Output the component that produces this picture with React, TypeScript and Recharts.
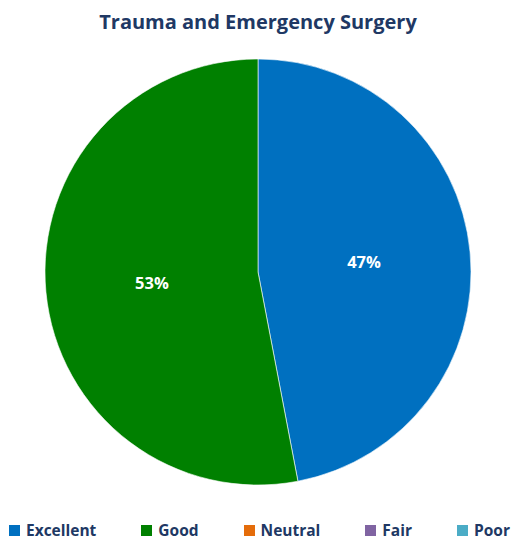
import { PieChart, Pie, Cell, Legend } from "recharts";

const categories = ["Excellent", "Good", "Neutral", "Fair", "Poor"];
const shares = [47, 53, 0, 0, 0];
const colors = ["#0070C0", "#008000", "#E46C0A", "#8064A2", "#4BACC6"];

const data = categories.map((name, i) => ({ name, value: shares[i] }));
const total = shares.reduce((a, b) => a + b, 0);

const navy = "#203864";
const font = "'Open Sans', Lato, sans-serif";

const RADIAN = Math.PI / 180;

function renderLabel(props: any) {
  const { cx, cy, midAngle, outerRadius, value } = props;
  if (!value) return null;
  const r = outerRadius * 0.5;
  const x = cx + r * Math.cos(-midAngle * RADIAN);
  const y = cy + r * Math.sin(-midAngle * RADIAN);
  return (
    <text
      x={x}
      y={y}
      fill="#ffffff"
      textAnchor="middle"
      dominantBaseline="central"
      fontFamily={font}
      fontWeight={700}
      fontSize={16.5}
    >
      {`${Math.round((value / total) * 100)}%`}
    </text>
  );
}

function LegendRow() {
  return (
    <div
      style={{
        display: "flex",
        alignItems: "center",
        paddingLeft: 9,
        gap: 45,
        fontFamily: font,
        fontWeight: 700,
        fontSize: 15.5,
        color: navy,
      }}
    >
      {categories.map((c, i) => (
        <div key={c} style={{ display: "flex", alignItems: "center" }}>
          <span
            style={{
              width: 11,
              height: 11,
              background: colors[i],
              marginRight: 6,
              display: "inline-block",
            }}
          />
          <span>{c}</span>
        </div>
      ))}
    </div>
  );
}

export default function App() {
  return (
    <div
      style={{
        position: "absolute",
        left: 0,
        top: 0,
        width: 512,
        height: 541,
        background: "#ffffff",
      }}
    >
      <div
        style={{
          position: "absolute",
          top: 8,
          left: 0,
          width: 516,
          textAlign: "center",
          fontFamily: font,
          fontWeight: 700,
          fontSize: 20,
          color: navy,
        }}
      >
        Trauma and Emergency Surgery
      </div>
      <PieChart
        width={512}
        height={541}
        margin={{ top: 0, right: 0, bottom: 0, left: 0 }}
      >
        <Pie
          data={data}
          dataKey="value"
          nameKey="name"
          cx={258}
          cy={272}
          outerRadius={213}
          startAngle={90}
          endAngle={-270}
          stroke="#ffffff"
          strokeWidth={0.6}
          label={renderLabel}
          labelLine={false}
          isAnimationActive={false}
        >
          {data.map((d, i) => (
            <Cell key={d.name} fill={colors[i]} />
          ))}
        </Pie>
        <Legend
          verticalAlign="bottom"
          align="left"
          wrapperStyle={{ bottom: 0, left: 0 }}
          content={() => <LegendRow />}
        />
      </PieChart>
    </div>
  );
}
